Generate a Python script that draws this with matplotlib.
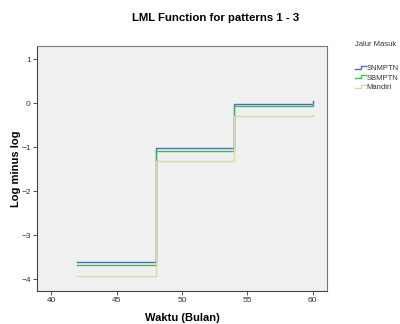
import numpy as np
import matplotlib
matplotlib.use('Agg')
from matplotlib import pyplot as plt
from matplotlib.lines import Line2D
from matplotlib.legend_handler import HandlerBase

# data
waktu = [42, 48, 54, 60]
snmptn = [-3.62, -1.03, -0.02, 0.06]
sbmptn = [-3.69, -1.08, -0.06, -0.02]
mandiri = [-3.92, -1.32, -0.29, -0.26]
group_names = ['SNMPTN', 'SBMPTN', 'Mandiri']
group_colors = ['#5468b8', '#3dbd5a', '#dcd7a8']

x_ticks = [40, 45, 50, 55, 60]
y_ticks = [1, 0, -1, -2, -3, -4]


class StepHandler(HandlerBase):
    # little step icon like the SPSS legend
    def create_artists(self, legend, orig, xdescent, ydescent, width, height,
                       fontsize, trans):
        xs = [-xdescent, -xdescent + 0.55 * width, -xdescent + 0.55 * width,
              -xdescent + width]
        ys = [height * 0.25, height * 0.25, height * 0.8, height * 0.8]
        ln = Line2D(xs, ys, color=orig.get_color(), lw=orig.get_linewidth())
        ln.set_transform(trans)
        return [ln]


def main():
    plt.rcParams['font.family'] = ['Liberation Sans', 'DejaVu Sans']

    fig = plt.figure(figsize=(4.0, 3.24), dpi=100)
    ax = fig.add_axes([0.0925, 0.102, 0.725, 0.756])
    ax.set_facecolor('#f0f0f0')

    handles = []
    for vals, name, col in zip([snmptn, sbmptn, mandiri], group_names, group_colors):
        h, = ax.step(waktu, vals, where='post', color=col, lw=1.0, label=name)
        handles.append(h)

    ax.set_xlim(38.9, 61.1)
    ax.set_ylim(-4.27, 1.3)
    ax.set_xticks(x_ticks)
    ax.set_yticks(y_ticks)
    ax.tick_params(axis='both', labelsize=6, length=3, width=0.6,
                   colors='#333333', pad=1.5)

    for sp in ax.spines.values():
        sp.set_color('#777777')
        sp.set_linewidth(0.8)
    ax.spines['left'].set_color('#444444')
    ax.spines['bottom'].set_color('#444444')

    ax.set_xlabel('Waktu (Bulan)', fontsize=8, fontweight='bold')
    ax.set_ylabel('Log minus log', fontsize=8, fontweight='bold')
    ax.xaxis.set_label_coords(0.5, -0.088)
    ax.yaxis.set_label_coords(-0.056, 0.5)

    fig.text(0.54, 0.945, 'LML Function for patterns 1 - 3', ha='center',
             va='center', fontsize=8.2, fontweight='bold')

    leg = fig.legend(handles, group_names, loc='upper left',
                     bbox_to_anchor=(0.878, 0.885), frameon=False,
                     fontsize=5.5, title='Jalur Masuk', title_fontsize=5.5,
                     handlelength=1.4, handletextpad=0.1, labelspacing=0.3,
                     borderpad=0, alignment='left',
                     handler_map={Line2D: StepHandler()})
    leg.get_title().set_color('#333333')
    # push the entries down a bit below the title
    leg._legend_box.sep = 12
    for t in leg.get_texts():
        t.set_color('#333333')

    fig.savefig('out.png', dpi=100)


if __name__ == "__main__":
    main()
